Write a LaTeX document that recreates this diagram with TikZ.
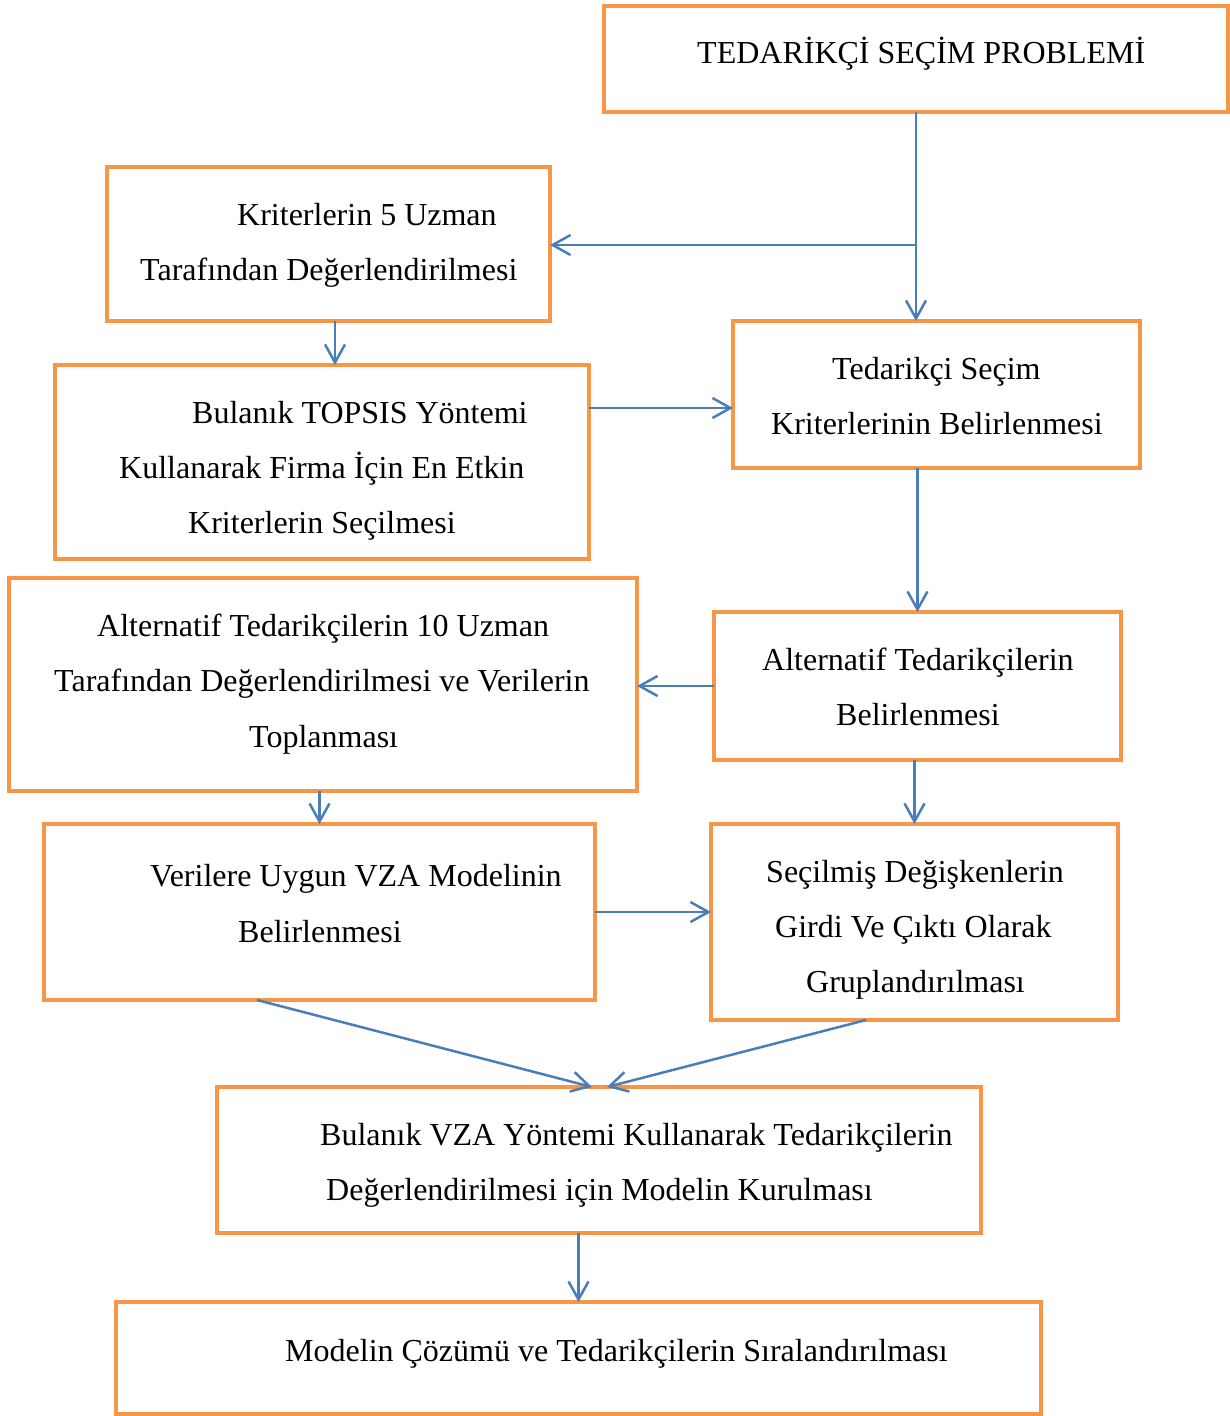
\documentclass[tikz,border=0pt]{standalone}
\usepackage{fontspec}
\setmainfont{Liberation Serif}
\usetikzlibrary{arrows.meta}
\definecolor{boxorange}{HTML}{F79646}
\definecolor{arrblue}{HTML}{4A7EBB}
\begin{document}
\begin{tikzpicture}[x=1pt,y=-1pt,
  box/.style={draw=boxorange, line width=4.5pt, rectangle, inner sep=0pt, outer sep=0pt},
  txt/.style={anchor=base west, inner sep=0pt, font=\fontsize{32}{38}\selectfont},
  arr/.style={draw=arrblue, line width=2.5pt, -{Straight Barb[length=18pt,width=20pt,line width=2.5pt]}},
  ln/.style={draw=arrblue, line width=2.5pt}]
\useasboundingbox (0,0) rectangle (1230,1416);
% boxes
\node[box, minimum width=624pt, minimum height=106pt] (b1) at (916,59) {};
\node[box, minimum width=443pt, minimum height=154pt] (b2) at (328.5,244) {};
\node[box, minimum width=407pt, minimum height=147pt] (b3) at (936.5,394.5) {};
\node[box, minimum width=534pt, minimum height=194pt] (b4) at (322,462) {};
\node[box, minimum width=628pt, minimum height=213pt] (b5) at (323,684.5) {};
\node[box, minimum width=407pt, minimum height=148pt] (b6) at (917.5,686) {};
\node[box, minimum width=551pt, minimum height=176pt] (b7) at (319.5,912) {};
\node[box, minimum width=407pt, minimum height=196pt] (b8) at (914.5,922) {};
\node[box, minimum width=764pt, minimum height=146pt] (b9) at (599,1160) {};
\node[box, minimum width=925pt, minimum height=112pt] (b10) at (578.5,1358) {};
% texts
\node[txt] (t1) at (697,63) {TEDARİKÇİ SEÇİM PROBLEMİ};
\node[txt] (t2a) at (237,225) {Kriterlerin 5 Uzman};
\node[txt] (t2b) at (140,280) {Tarafından Değerlendirilmesi};
\node[txt] (t3a) at (832,379) {Tedarikçi Seçim};
\node[txt] (t3b) at (771,434) {Kriterlerinin Belirlenmesi};
\node[txt] (t4a) at (192,423) {Bulanık TOPSIS Yöntemi};
\node[txt] (t4b) at (119,478) {Kullanarak Firma İçin En Etkin};
\node[txt] (t4c) at (188,533) {Kriterlerin Seçilmesi};
\node[txt] (t5a) at (97,636) {Alternatif Tedarikçilerin 10 Uzman};
\node[txt] (t5b) at (54,691) {Tarafından Değerlendirilmesi ve Verilerin};
\node[txt] (t5c) at (249,747) {Toplanması};
\node[txt] (t6a) at (762,670) {Alternatif Tedarikçilerin};
\node[txt] (t6b) at (836,725) {Belirlenmesi};
\node[txt] (t7a) at (150,886) {Verilere Uygun VZA Modelinin};
\node[txt] (t7b) at (238,942) {Belirlenmesi};
\node[txt] (t8a) at (766,882) {Seçilmiş Değişkenlerin};
\node[txt] (t8b) at (775,937) {Girdi Ve Çıktı Olarak};
\node[txt] (t8c) at (806,992) {Gruplandırılması};
\node[txt] (t9a) at (320,1145) {Bulanık VZA Yöntemi Kullanarak Tedarikçilerin};
\node[txt] (t9b) at (326,1200) {Değerlendirilmesi için Modelin Kurulması};
\node[txt] (t10) at (285,1361) {Modelin Çözümü ve Tedarikçilerin Sıralandırılması};
% connectors
\coordinate (j) at (916,245);
\draw[arr] (b1.south) -- (b1.south |- b3.north);
\draw[arr] (j) -- (j -| b2.east);
\draw[arr] ([xshift=6.5pt]b2.south) -- ([xshift=6.5pt]b2.south |- b4.north);
\draw[arr] ([yshift=54pt]b4.east) -- ([yshift=54pt]b4.east -| b3.west);
\draw[arr] (b3.south -| b6.north) -- (b6.north);
\draw[arr] (b6.west) -- (b6.west -| b5.east);
\draw[arr] (b5.south -| b7.north) -- (b7.north);
\draw[arr] (b6.south -| b8.north) -- (b8.north);
\draw[arr] (b7.east) -- (b7.east -| b8.west);
\draw[arr] ([xshift=-62.5pt]b7.south) -- ([xshift=-7pt]b9.north);
\draw[arr] ([xshift=-48.5pt]b8.south) -- ([xshift=8pt]b9.north);
\draw[arr] (b9.south -| b10.north) -- (b10.north);
\end{tikzpicture}
\end{document}
